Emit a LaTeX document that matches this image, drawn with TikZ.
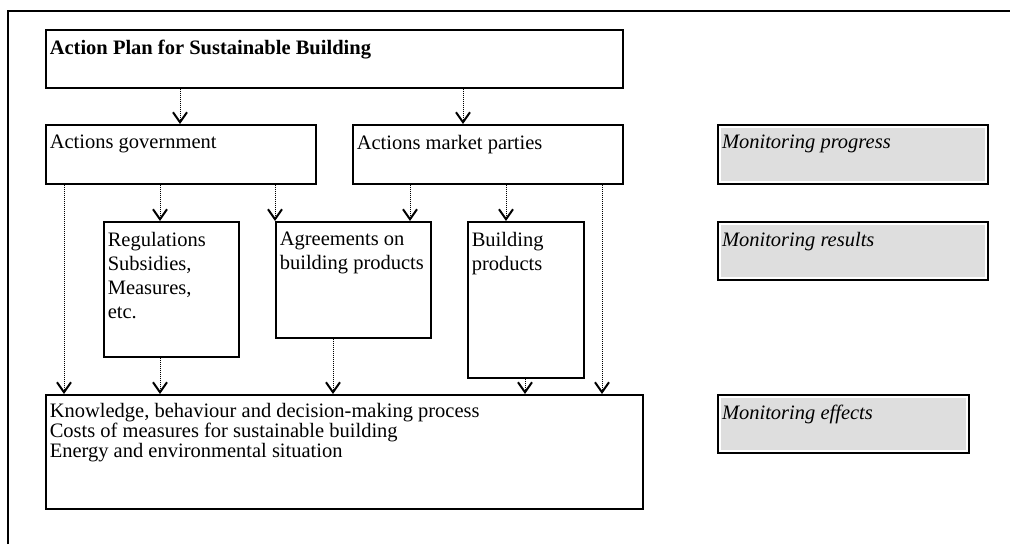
\documentclass[tikz,border=0pt]{standalone}
\usepackage{fontspec}
\setmainfont{Liberation Serif}
\usepackage{tikz}
\usetikzlibrary{arrows.meta,positioning,calc}
\definecolor{mongray}{RGB}{222,222,222}
% box text: width, height (in pt, outer size of the box), contents
\newcommand{\boxtxt}[3]{\begin{minipage}[t][\dimexpr#2pt-20pt\relax][t]{\dimexpr#1pt-8pt\relax}#3\end{minipage}}

\begin{document}
\begin{tikzpicture}[x=1pt, y=-1pt,
  every node/.style={font=\fontsize{20.5pt}{24pt}\selectfont},
  box/.style={draw, line width=1.6pt, anchor=north west, inner xsep=4pt, inner ysep=10pt},
  monbox/.style={box, line width=2pt, fill=mongray, inner xsep=4pt},
  flow/.style={line width=1pt, dash pattern=on 1pt off 1pt, -{Straight Barb[length=10pt,width=14pt,line width=2pt]}}]
\useasboundingbox (0,0) rectangle (1010,544);
\draw[line width=2pt] (8,544) -- (8,11) -- (1010,11);

\node[box] (plan) at (45,29) {\boxtxt{577}{58}{\textbf{Action Plan for Sustainable Building}}};
\node[box] (gov) at (45,124) {\boxtxt{270}{59}{Actions government}};
\node[box] (market) at (352,124) {\boxtxt{270}{59}{Actions market parties}};
\node[box] (regs) at (103,221) {\boxtxt{135}{135}{Regulations\\Subsidies,\\Measures,\\etc.}};
\node[box] (agree) at (275,221) {\boxtxt{155}{116}{Agreements on\\building products}};
\node[box] (build) at (467,221) {\boxtxt{116}{156}{Building\\products}};
\node[box, inner ysep=8pt] (effects) at (45,394) {\boxtxt{597}{118}{\baselineskip=20pt Knowledge, behaviour and decision-making process\\Costs of measures for sustainable building\\Energy and environmental situation}};

\node[monbox] (mprog) at (717,124) {\boxtxt{270}{59}{\itshape Monitoring progress}};
\node[monbox] (mres) at (717,221) {\boxtxt{270}{58}{\itshape Monitoring results}};
\node[monbox] (meff) at (717,394) {\boxtxt{251}{58}{\itshape Monitoring effects}};
\foreach \m in {mprog,mres,meff}
  \draw[white, line width=2pt] ([shift={(3pt,-3pt)}]\m.north west) rectangle ([shift={(-3pt,3pt)}]\m.south east);

\foreach \src/\sx/\dst/\dx in {plan/135/gov/135, plan/418/market/111, gov/19/effects/19, gov/115/regs/57, gov/230/agree/0, market/58/agree/135, market/154/build/39, market/250/effects/557, regs/57/effects/115, agree/58/effects/288, build/58/effects/480}
  \draw[flow] ([xshift=\sx]\src.south west) -- ([xshift=\dx]\dst.north west);
\end{tikzpicture}
\end{document}
